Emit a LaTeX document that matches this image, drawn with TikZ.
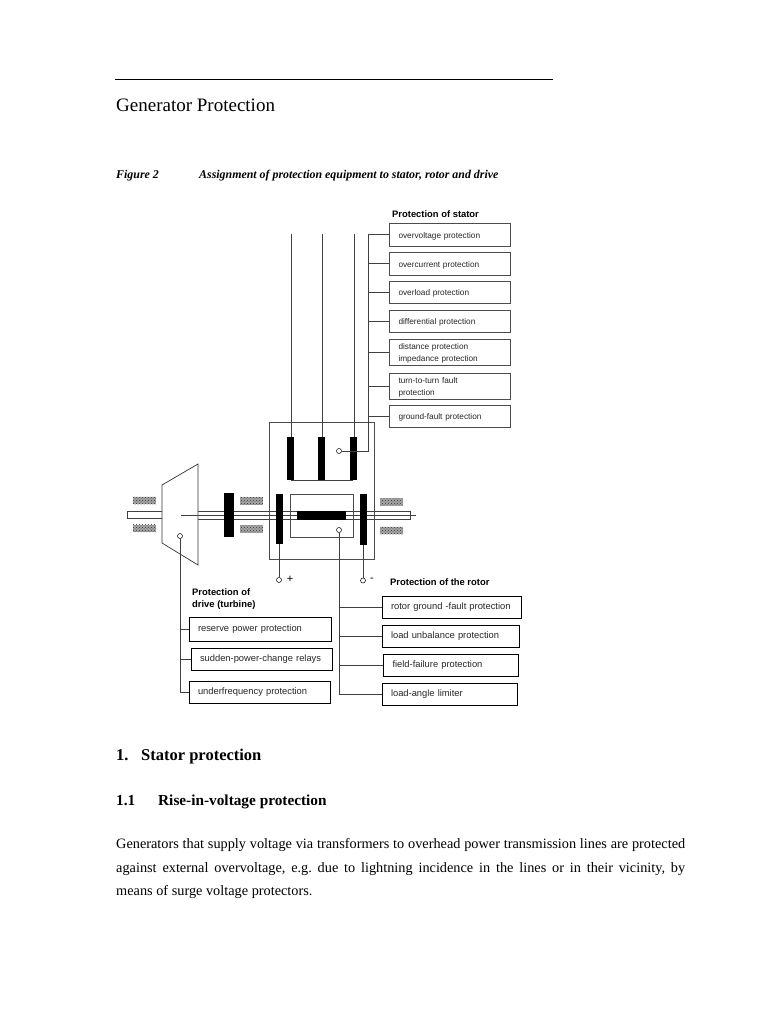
\documentclass[tikz,border=0pt]{standalone}
\usepackage{fontspec}
\usetikzlibrary{patterns}
\setmainfont{Liberation Serif}
\newfontfamily\labelsans{Liberation Sans}
\tikzset{
  protbox/.style={draw, black, text=black!85, line width=0.95pt, text width=#1, inner xsep=9pt, inner ysep=0pt, align=left, font=\labelsans\fontsize{9.35}{12}\selectfont},
  statorbox/.style={protbox=#1, black!70, text=black!85, line width=0.7pt, execute at begin node={\rule{0pt}{9.2pt}}, font=\labelsans\fontsize{8.25}{12}\selectfont},
  bar/.style={fill=black, inner sep=0pt},
  bearing/.style={preaction={fill=black!35}, pattern=crosshatch dots, pattern color=black!80, inner sep=0pt, minimum width=23pt, minimum height=7.5pt},
  terminal/.style={circle, draw, fill=white, inner sep=0pt, minimum size=5pt, line width=0.5pt},
  heading/.style={anchor=base west, inner sep=0pt, font=\labelsans\bfseries\fontsize{9.4}{12}\selectfont, align=left},
  wire/.style={black!75, line width=0.6pt}
}
\begin{document}
\begin{tikzpicture}[x=1pt, y=-1pt]
\useasboundingbox (0,0) rectangle (768,1024);

\coordinate (ruleL) at (115,79);
\coordinate (ruleR) at (553,79);
\draw[line width=0.8pt] (ruleL) -- (ruleR);
\node[anchor=base west, inner sep=0pt, font=\fontsize{19}{22}\selectfont] (title) at (116,112) {Generator Protection};
\node[anchor=base west, inner sep=0pt, font=\bfseries\itshape\fontsize{11.9}{14}\selectfont] (figno) at (116,179) {Figure 2};
\node[anchor=base west, inner sep=0pt, font=\bfseries\itshape\fontsize{11.9}{14}\selectfont] (figcap) at (199,179) {Assignment of protection equipment to stator, rotor and drive};

% shaft and turbine
\draw[wire] (162,511) -- (127,511) -- (127,518) -- (162,518);
\draw[wire] (198,511) -- (410,511) -- (410,519) -- (198,519);
\draw[wire, line width=0.4pt] (181,515) -- (416,515);
\draw[line width=0.7pt, black!80, fill=white] (162,485) -- (198,464) -- (198,565) -- (162,543) -- cycle;
\draw[wire, line width=0.4pt] (181,515) -- (198,515);

\draw[black!70, line width=0.5pt] (269,422) rectangle (374.5,559);
\draw[black!70, line width=0.6pt] (290,494) rectangle (353,537);

\node[bearing] (bearA) at (144.5,500.5) {};
\node[bearing] (bearB) at (144.5,528.5) {};
\node[bearing] (bearC) at (251.5,501) {};
\node[bearing] (bearD) at (251.5,529) {};
\node[bearing] (bearE) at (391.5,502) {};
\node[bearing] (bearF) at (391.5,530.5) {};

\node[bar, minimum width=10pt, minimum height=44pt] (coupling) at (229,515) {};
\node[bar, minimum width=7pt, minimum height=43pt] (statorA) at (290.5,458.5) {};
\node[bar, minimum width=7pt, minimum height=43pt] (statorB) at (321.5,458.5) {};
\node[bar, minimum width=7pt, minimum height=43pt] (statorC) at (353,458.5) {};
\node[bar, minimum width=7pt, minimum height=50pt] (fieldA) at (279.5,519) {};
\node[bar, minimum width=7pt, minimum height=51pt] (fieldB) at (363.5,519.5) {};
\node[bar, minimum width=49pt, minimum height=9pt] (rotor) at (321.5,515.5) {};

\coordinate (phaseA) at (291,234);
\coordinate (phaseB) at (322.5,234);
\coordinate (phaseC) at (354.5,234);
\draw[wire] (phaseA) -- (phaseA|-statorA.north);
\draw[wire] (phaseB) -- (phaseB|-statorB.north);
\draw[wire] (phaseC) -- (phaseC|-statorC.north);
\draw[wire] (statorA.south) -- (statorC.south);

\node[terminal] (statorT) at (339,451) {};
\node[terminal] (rotorT) at (339,530) {};
\node[terminal] (driveT) at (180,536) {};
\node[terminal] (plusT) at (279,580) {};
\node[terminal] (minusT) at (363,580.5) {};
\node[anchor=center, inner sep=0pt, font=\labelsans\fontsize{11}{12}\selectfont] (plus) at (290,579) {+};
\node[anchor=center, inner sep=0pt, font=\labelsans\fontsize{11}{12}\selectfont] (minus) at (372,579.5) {-};
\draw[wire] (fieldA.south-|plusT) -- (plusT);
\draw[wire] (fieldB.south-|minusT) -- (minusT);

% stator side
\node[heading] (statorhead) at (392,218) {Protection of stator};
\node[statorbox=103pt, minimum height=23pt] (overvoltage) at (450,234.5) {overvoltage protection};
\node[statorbox=103pt, minimum height=23pt] (overcurrent) at (450,263.5) {overcurrent protection};
\node[statorbox=103pt, minimum height=22pt] (overload) at (450,292) {overload protection};
\node[statorbox=103pt, minimum height=22pt] (differential) at (450,321) {differential protection};
\node[statorbox=103pt, minimum height=26pt] (distance) at (450,352) {distance protection\\impedance protection};
\node[statorbox=103pt, minimum height=26pt] (turnfault) at (450,386) {turn-to-turn fault\\protection};
\node[statorbox=103pt, minimum height=22pt] (groundfault) at (450,416) {ground-fault protection};
\coordinate (statorbus) at (368,234.5);
\coordinate (statorbend) at (368,451);
\draw[wire] (overvoltage.west) -- (statorbus) -- (statorbend) -- (statorT);
\draw[wire] (statorbus|-overcurrent.west) -- (overcurrent.west);
\draw[wire] (statorbus|-overload.west) -- (overload.west);
\draw[wire] (statorbus|-differential.west) -- (differential.west);
\draw[wire] (statorbus|-distance.west) -- (distance.west);
\draw[wire] (statorbus|-turnfault.west) -- (turnfault.west);
\draw[wire] (statorbus|-groundfault.west) -- (groundfault.west);

% rotor side
\node[heading] (rotorhead) at (390,585) {Protection of the rotor};
\node[protbox=121.5pt, minimum height=22pt] (rotorground) at (451.75,607) {rotor ground -fault protection};
\node[protbox=119pt, minimum height=22pt] (unbalance) at (450.5,636) {load unbalance protection};
\node[protbox=116.5pt, minimum height=22pt] (fieldfail) at (450.75,665) {field-failure protection};
\node[protbox=117.5pt, minimum height=22pt] (anglelimit) at (449.75,694) {load-angle limiter};
\draw[wire] (rotorT) -- (rotorT|-anglelimit.west) -- (anglelimit.west);
\draw[wire] (rotorT|-rotorground.west) -- (rotorground.west);
\draw[wire] (rotorT|-unbalance.west) -- (unbalance.west);
\draw[wire] (rotorT|-fieldfail.west) -- (fieldfail.west);

% drive side
\node[heading] (drivehead) at (192,607) {Protection of\\drive (turbine)};
\node[protbox=124pt, minimum height=23.5pt] (reserve) at (260,629.25) {reserve power protection};
\node[protbox=123pt, minimum height=22pt] (suddenchange) at (261.5,659) {sudden-power-change relays};
\node[protbox=123pt, minimum height=22pt] (underfreq) at (259.5,692) {underfrequency protection};
\draw[wire] (driveT) -- (driveT|-underfreq.west) -- (underfreq.west);
\draw[wire] (driveT|-reserve.west) -- (reserve.west);
\draw[wire] (driveT|-suddenchange.west) -- (suddenchange.west);

% text below
\node[anchor=base west, inner sep=0pt, font=\bfseries\fontsize{16.5}{18}\selectfont] (sec) at (116,760) {1.};
\node[anchor=base west, inner sep=0pt, font=\bfseries\fontsize{16.5}{18}\selectfont] (sectitle) at (141,760) {Stator protection};
\node[anchor=base west, inner sep=0pt, font=\bfseries\fontsize{15.3}{16}\selectfont] (subsec) at (116,805) {1.1};
\node[anchor=base west, inner sep=0pt, font=\bfseries\fontsize{15.3}{16}\selectfont] (subtitle) at (158,805) {Rise-in-voltage protection};
\node[anchor=north west, inner sep=0pt, text width=569pt, align=justify, font=\frenchspacing\fontsize{14.3}{23.5}\selectfont] (body) at (116,838.5) {Generators that supply voltage via transformers to overhead power transmission lines are protected\linebreak against external overvoltage, e.g. due to lightning incidence in the lines or in their vicinity, by\linebreak means of surge voltage protectors.};
\end{tikzpicture}
\end{document}
